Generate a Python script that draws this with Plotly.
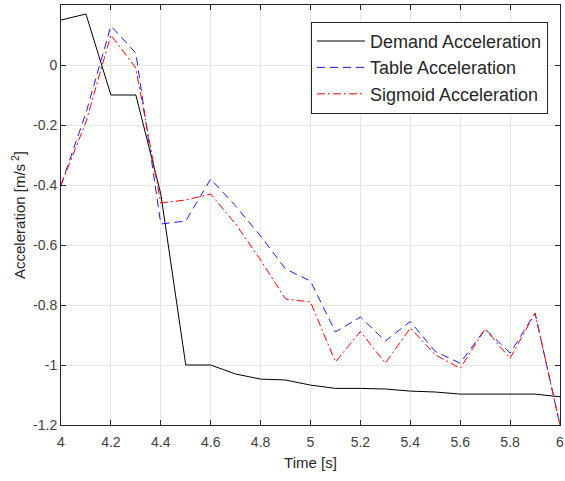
import plotly.graph_objects as go

time = [4.0, 4.1, 4.2, 4.3, 4.4, 4.5, 4.6, 4.7, 4.8, 4.9, 5.0,
        5.1, 5.2, 5.3, 5.4, 5.5, 5.6, 5.7, 5.8, 5.9, 6.0]
demand = [0.15, 0.17, -0.10, -0.10, -0.43, -1.00, -1.00, -1.03, -1.047, -1.05, -1.067,
          -1.078, -1.078, -1.08, -1.087, -1.09, -1.097, -1.097, -1.097, -1.097, -1.106]
table = [-0.40, -0.16, 0.13, 0.04, -0.53, -0.52, -0.38, -0.47, -0.57, -0.68, -0.72,
         -0.89, -0.84, -0.92, -0.855, -0.955, -0.994, -0.88, -0.96, -0.827, -1.20]
sigmoid = [-0.40, -0.19, 0.10, -0.01, -0.46, -0.45, -0.43, -0.53, -0.65, -0.78, -0.79,
           -0.99, -0.888, -0.994, -0.877, -0.966, -1.011, -0.88, -0.978, -0.827, -1.20]

xticks = [4, 4.2, 4.4, 4.6, 4.8, 5, 5.2, 5.4, 5.6, 5.8, 6]
xticklabels = ["4", "4.2", "4.4", "4.6", "4.8", "5", "5.2", "5.4", "5.6", "5.8", "6"]
yticks = [0, -0.2, -0.4, -0.6, -0.8, -1.0, -1.2]
yticklabels = ["0", "-0.2", "-0.4", "-0.6", "-0.8", "-1", "-1.2"]

FONT = "Liberation Sans, Arial, sans-serif"
AX = "#262626"

fig = go.Figure()
fig.add_trace(go.Scatter(x=time, y=demand, mode="lines", name="Demand Acceleration",
                         line=dict(color="black", width=1)))
fig.add_trace(go.Scatter(x=time, y=table, mode="lines", name="Table Acceleration",
                         line=dict(color="#1a1aff", width=1, dash="8px,5px")))
fig.add_trace(go.Scatter(x=time, y=sigmoid, mode="lines", name="Sigmoid Acceleration",
                         line=dict(color="#ff0000", width=1, dash="8px,3px,2px,3px")))

axis_common = dict(
    showline=True, linecolor=AX, linewidth=1, mirror="ticks",
    ticks="inside", ticklen=5, tickcolor=AX,
    showgrid=True, gridcolor="#e6e6e6", gridwidth=1,
    zeroline=False, automargin=False,
    tickfont=dict(family=FONT, size=14, color="#404040"),
)

fig.update_layout(
    width=565, height=481,
    margin=dict(l=61, r=5, t=5, b=56),
    paper_bgcolor="white", plot_bgcolor="white",
    font=dict(family=FONT, color="#262626"),
    xaxis=dict(range=[4, 6], tickvals=xticks, ticktext=xticklabels,
               ticklabeloverflow="allow", ticklabelstandoff=4,
               title=dict(text="Time [s]", font=dict(size=15, color="#262626"), standoff=8),
               **axis_common),
    yaxis=dict(range=[-1.2, 0.2], tickvals=yticks, ticktext=yticklabels,
               title=dict(text="Acceleration [m/s<sup> 2</sup>]", font=dict(size=15, color="#262626"),
                          standoff=3),
               **axis_common),
    legend=dict(x=0.976, y=0.96, xanchor="right", yanchor="top",
                bgcolor="white", bordercolor=AX, borderwidth=1,
                font=dict(family=FONT, size=18, color="#262626"),
                itemwidth=48, tracegroupgap=0),
    showlegend=True,
)

fig.write_html("out.html", config={"displayModeBar": False},
               post_script="document.body.style.margin='0';document.body.style.padding='0';")
